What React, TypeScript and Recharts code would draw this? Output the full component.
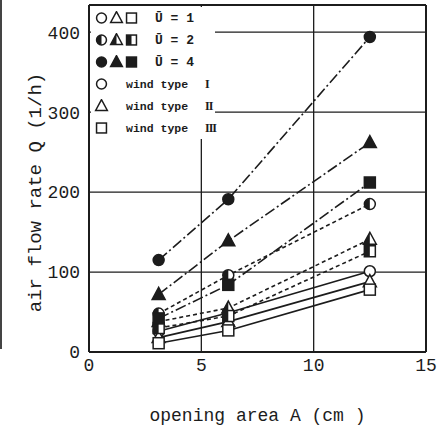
import { LineChart, Line, XAxis, YAxis, CartesianGrid, ReferenceLine } from 'recharts';

// opening area A (cm2) at which the three measurements were taken
const areas = [3.1, 6.2, 12.5];

// air flow rate Q (1/h), per mean wind speed and wind type
const u1Type1 = [26, 49, 101];
const u1Type2 = [18, 38, 88];
const u1Type3 = [11, 27, 78];
const u2Type1 = [48, 96, 185];
const u2Type2 = [38, 55, 141];
const u2Type3 = [30, 45, 126];
const u4Type1 = [115, 191, 394];
const u4Type2 = [72, 139, 262];
const u4Type3 = [42, 84, 212];

const xTicks = [0, 5, 10, 15];
const yTicks = [0, 100, 200, 300, 400];

const speedLabels = ['Ū = 1', 'Ū = 2', 'Ū = 4'];
const windTypeLabels = ['I', 'II', 'III'];

type Shape = 'circle' | 'triangle' | 'square';
type Fill = 'open' | 'half' | 'full';

const shapes: Shape[] = ['circle', 'triangle', 'square'];
const fills: Fill[] = ['open', 'half', 'full'];
const dashes = [undefined, '4 3', '11 3 2 3'];

const ink = '#1c1c1c';
const mono = '"Liberation Mono", "DejaVu Sans Mono", monospace';

const series = [
    {key: 'u1t1', values: u1Type1, speed: 0, type: 0},
    {key: 'u1t2', values: u1Type2, speed: 0, type: 1},
    {key: 'u1t3', values: u1Type3, speed: 0, type: 2},
    {key: 'u2t1', values: u2Type1, speed: 1, type: 0},
    {key: 'u2t2', values: u2Type2, speed: 1, type: 1},
    {key: 'u2t3', values: u2Type3, speed: 1, type: 2},
    {key: 'u4t1', values: u4Type1, speed: 2, type: 0},
    {key: 'u4t2', values: u4Type2, speed: 2, type: 1},
    {key: 'u4t3', values: u4Type3, speed: 2, type: 2},
];

const data = areas.map((a, i) => {
    const row: Record<string, number> = {area: a};
    series.forEach(s => {
        row[s.key] = s.values[i];
    });
    return row;
});

const Marker = ({cx, cy, shape, fill, size = 1}: { cx: number, cy: number, shape: Shape, fill: Fill, size?: number }) => {
    const bg = fill === 'full' ? ink : '#fff';
    if (shape === 'circle') {
        const r = 5.5 * size;
        return (
            <g>
                <circle cx={cx} cy={cy} r={r} fill={bg} stroke={ink} strokeWidth={1.5}/>
                {fill === 'half' && <path d={`M${cx},${cy - r} A${r},${r} 0 0 0 ${cx},${cy + r} Z`} fill={ink}/>}
            </g>
        );
    }
    if (shape === 'square') {
        const h = 5.5 * size;
        return (
            <g>
                <rect x={cx - h} y={cy - h} width={2 * h} height={2 * h} fill={bg} stroke={ink} strokeWidth={1.5}/>
                {fill === 'half' && <rect x={cx - h} y={cy - h} width={h} height={2 * h} fill={ink}/>}
            </g>
        );
    }
    const w = 6.5 * size;
    const t = 7 * size;
    const b = 5 * size;
    return (
        <g>
            <polygon points={`${cx},${cy - t} ${cx - w},${cy + b} ${cx + w},${cy + b}`} fill={bg} stroke={ink}
                     strokeWidth={1.5}/>
            {fill === 'half' && <polygon points={`${cx},${cy - t} ${cx - w},${cy + b} ${cx},${cy + b}`} fill={ink}/>}
        </g>
    );
};

const LegendSymbol = ({shape, fill}: { shape: Shape, fill: Fill }) => (
    <svg width={15} height={14} style={{display: 'inline-block', verticalAlign: 'middle'}}>
        <Marker cx={7.5} cy={7} shape={shape} fill={fill} size={0.9}/>
    </svg>
);

const ChartLegend = () => (
    <div style={{
        position: 'absolute', left: 91, top: 7, width: 124, height: 132, background: '#fff',
        fontFamily: mono, fontWeight: 'bold', fontSize: 11.5, color: ink
    }}>
        {speedLabels.map((label, i) => (
            <div key={label} style={{height: 22, display: 'flex', alignItems: 'center', paddingLeft: 3}}>
                {shapes.map(s => <LegendSymbol key={s} shape={s} fill={fills[i]}/>)}
                <span style={{marginLeft: 16, fontSize: 13}}>{label}</span>
            </div>
        ))}
        {windTypeLabels.map((label, i) => (
            <div key={label} style={{height: 22, display: 'flex', alignItems: 'center', paddingLeft: 3}}>
                <LegendSymbol shape={shapes[i]} fill="open"/>
                <span style={{marginLeft: 17}}>wind type</span>
                <span style={{
                    position: 'absolute', left: 114, fontFamily: '"Liberation Serif", serif',
                    fontSize: 12, letterSpacing: -1
                }}>{label}</span>
            </div>
        ))}
    </div>
);

const YTitle = ({viewBox}: any) => {
    const x = viewBox.x + 36;
    const y = viewBox.y + viewBox.height / 2 + 14;
    return (
        <text x={x} y={y} transform={`rotate(-90 ${x} ${y})`} textAnchor="middle" dominantBaseline="central"
              fill={ink} fontSize={19} fontFamily={mono}>
            air flow rate Q (1/h)
        </text>
    );
};

export default function App() {
    return (
        <div style={{position: 'absolute', left: 0, top: 0, width: 438, height: 425, background: '#fff'}}>
            <div style={{position: 'absolute', left: 0, top: 0, width: 2, height: 349, background: '#444'}}/>
            <LineChart width={438} height={425} data={data} margin={{top: 5, right: 12, bottom: 0, left: 0}}>
                <CartesianGrid stroke={ink} strokeWidth={1.3}/>
                <XAxis
                    dataKey="area"
                    type="number"
                    domain={[0, 15]}
                    ticks={xTicks}
                    height={73}
                    axisLine={{stroke: ink, strokeWidth: 2}}
                    tickLine={false}
                    tickSize={0}
                    tick={{fill: ink, fontSize: 18, fontFamily: mono}}
                    tickMargin={6}
                    label={{
                        value: 'opening area A (cm )', position: 'insideBottom', offset: 4,
                        fill: ink, fontSize: 18, fontFamily: mono
                    }}
                />
                <YAxis
                    type="number"
                    domain={[0, 434]}
                    ticks={yTicks}
                    width={89}
                    axisLine={{stroke: ink, strokeWidth: 2}}
                    tickLine={false}
                    tickSize={0}
                    tick={{fill: ink, fontSize: 18, fontFamily: mono}}
                    tickMargin={9}
                    label={<YTitle/>}
                />
                <ReferenceLine y={434} stroke={ink} strokeWidth={2}/>
                <ReferenceLine x={15} stroke={ink} strokeWidth={2}/>
                {series.map(s => (
                    <Line
                        key={s.key}
                        dataKey={s.key}
                        type="linear"
                        stroke={ink}
                        strokeWidth={1.6}
                        strokeDasharray={dashes[s.speed]}
                        isAnimationActive={false}
                        activeDot={false}
                        dot={(p: any) => (
                            <Marker key={`${s.key}-${p.index}`} cx={p.cx} cy={p.cy}
                                    shape={shapes[s.type]} fill={fills[s.speed]}/>
                        )}
                    />
                ))}
            </LineChart>
            <ChartLegend/>
        </div>
    );
}
